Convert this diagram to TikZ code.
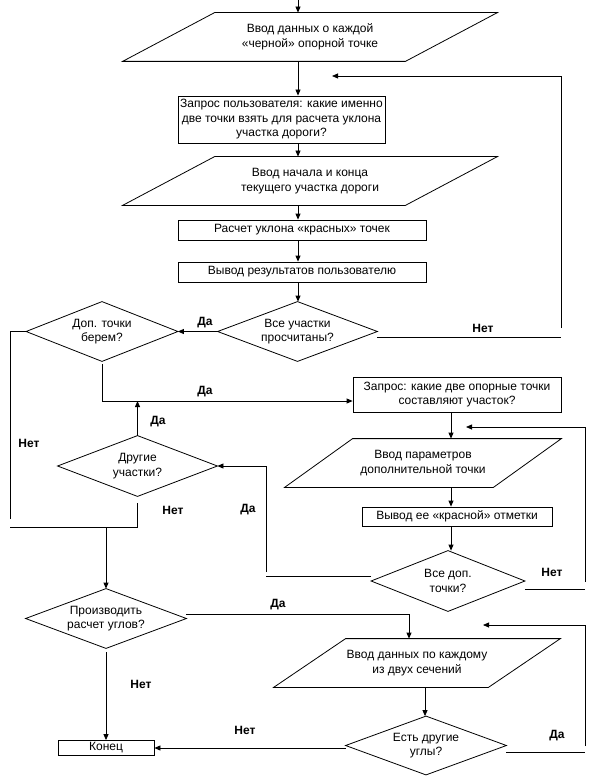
\documentclass[tikz,border=0pt]{standalone}
\usepackage{fontspec}
\setmainfont{Liberation Sans}
\usetikzlibrary{arrows.meta,calc}

\tikzset{
  txt/.style={font=\fontsize{12}{14.5}\selectfont, inner sep=0pt, align=center},
  block/.style={txt, draw},
  shapebox/.style={txt},
  lbl/.style={font=\fontsize{12}{14}\selectfont\bfseries, inner sep=0pt},
  arr/.style={-{Triangle[length=6pt,width=5pt]}}
}

\begin{document}
\begin{tikzpicture}[x=1pt, y=-1pt, line width=0.8pt]
\useasboundingbox (0,0) rectangle (589,778);

% Main column
\node[shapebox, minimum width=374, minimum height=48] (in1) at (310,37) {Ввод данных о каждой\\«черной» опорной точке};
\node[block, minimum width=207, minimum height=47] (ask) at (281.5,119.5) {Запрос пользователя: какие именно\\две точки взять для расчета уклона\\участка дороги?};
\node[shapebox, minimum width=374, minimum height=48] (in2) at (310,181) {Ввод начала и конца\\текущего участка дороги};
\node[block, minimum width=248, minimum height=20] (slope) at (302,230) {Расчет уклона «красных» точек};
\node[block, minimum width=248, minimum height=20] (out) at (302,272) {Вывод результатов пользователю};
\node[shapebox, minimum width=159, minimum height=59] (allsec) at (297.5,331.5) {Все участки\\просчитаны?};

% Extra points
\node[shapebox, minimum width=151, minimum height=59] (extra) at (102,331.5) {Доп. точки\\берем?};
\node[block, minimum width=208, minimum height=35] (pair) at (457,394.5) {Запрос: какие две опорные точки\\составляют участок?};
\node[shapebox, minimum width=276, minimum height=48] (inpar) at (423,463) {Ввод параметров\\дополнительной точки};
\node[block, minimum width=190, minimum height=19] (mark) at (457,516.5) {Вывод ее «красной» отметки};
\node[shapebox, minimum width=153, minimum height=60] (allext) at (448,581) {Все доп.\\точки?};
\node[shapebox, minimum width=159, minimum height=60] (other) at (137.5,466) {Другие\\участки?};

% Angles
\node[shapebox, minimum width=160, minimum height=59] (angles) at (106,618.5) {Производить\\расчет углов?};
\node[shapebox, minimum width=286, minimum height=48] (insec) at (417,663) {Ввод данных по каждому\\из двух сечений};
\node[shapebox, minimum width=160, minimum height=58] (more) at (426,745.5) {Есть другие\\углы?};
\node[block, minimum width=96, minimum height=15] (fin) at (106,748) {Конец};

% Outlines
\foreach \n/\s in {in1/92,in2/92,inpar/68,insec/72}
  \draw ([xshift=\s]\n.north west) -- (\n.north east) -- ([xshift=-\s]\n.south east) -- (\n.south west) -- cycle;
\foreach \n in {allsec,extra,allext,other,angles,more}
  \draw (\n.west) -- (\n.north) -- (\n.east) -- (\n.south) -- cycle;

% Coordinates
\coordinate (top) at (298,0);
\coordinate (ret1) at (332,76);
\coordinate (rc1) at (561,76);
\coordinate (rc1b) at (561,328);
\coordinate (no1) at (561,337);
\coordinate (j1) at (102,401);
\coordinate (cx) at (451,0);
\coordinate (ret2) at (466,427);
\coordinate (rc2) at (585,427);
\coordinate (rc2b) at (585,582);
\coordinate (no2) at (585,589);
\coordinate (yc2) at (266,576);
\coordinate (yc2b) at (266,572);
\coordinate (lc) at (10,519);
\coordinate (lc2) at (10,527);
\coordinate (j2) at (106,527);
\coordinate (yc3) at (409,614);
\coordinate (cx2) at (425,0);
\coordinate (ret3) at (483,625);
\coordinate (rc3) at (585,625);
\coordinate (rc3b) at (585,746);
\coordinate (no3) at (585,752);

% Connectors
\draw[arr] (top) -- (top |- in1.north);
\draw[arr] (in1.south -| top) -- (ask.north -| top);
\draw[arr] (ask.south -| top) -- (in2.north -| top);
\draw[arr] (in2.south -| top) -- (slope.north -| top);
\draw[arr] (slope.south -| top) -- (out.north -| top);
\draw[arr] (out.south -| top) -- (allsec.north -| top);
\draw[arr] (allsec.west) -- (extra.east);
\draw (allsec.east |- no1) -- (no1);
\draw[arr] (rc1b) -- (rc1) -- (ret1);
\draw[arr, shorten <=3pt] (extra.south -| j1) -- (j1) -- (pair.west |- j1);
\draw[arr] (other.north) -- (other.north |- j1);
\draw (extra.west) -- (extra.west -| lc) -- (lc);
\draw[shorten <=7pt] (other.south) -- (other.south |- lc2) -- (lc2);
\draw[arr] (j2) -- (angles.north);
\draw[arr] (pair.south -| cx) -- (inpar.north -| cx);
\draw[arr] (inpar.south -| cx) -- (mark.north -| cx);
\draw[arr] (mark.south -| cx) -- (allext.north -| cx);
\draw (allext.east |- no2) -- (no2);
\draw[arr] (rc2b) -- (rc2) -- (ret2);
\draw (allext.west |- yc2) -- (yc2);
\draw[arr] (yc2b) -- (yc2b |- other.east) -- (other.east);
\draw[arr] (angles.east |- yc3) -- (yc3) -- (yc3 |- insec.north);
\draw[arr] (insec.south -| cx2) -- (more.north -| cx2);
\draw (more.east |- no3) -- (no3);
\draw[arr] (rc3b) -- (rc3) -- (ret3);
\draw[arr] (more.west |- fin.east) -- (fin.east);
\draw[arr, shorten <=4pt] (angles.south) -- (fin.north);

% Labels
\node[lbl] (l1) at (205,323) {Да};
\node[lbl] (l2) at (483,328) {Нет};
\node[lbl] (l3) at (205,392) {Да};
\node[lbl] (l4) at (158,422) {Да};
\node[lbl] (l5) at (29,443) {Нет};
\node[lbl] (l6) at (173,510) {Нет};
\node[lbl] (l7) at (248,510) {Да};
\node[lbl] (l8) at (552,572) {Нет};
\node[lbl] (l9) at (278,605) {Да};
\node[lbl] (l10) at (141,684) {Нет};
\node[lbl] (l11) at (245,730) {Нет};
\node[lbl] (l12) at (557,736) {Да};
\end{tikzpicture}
\end{document}
